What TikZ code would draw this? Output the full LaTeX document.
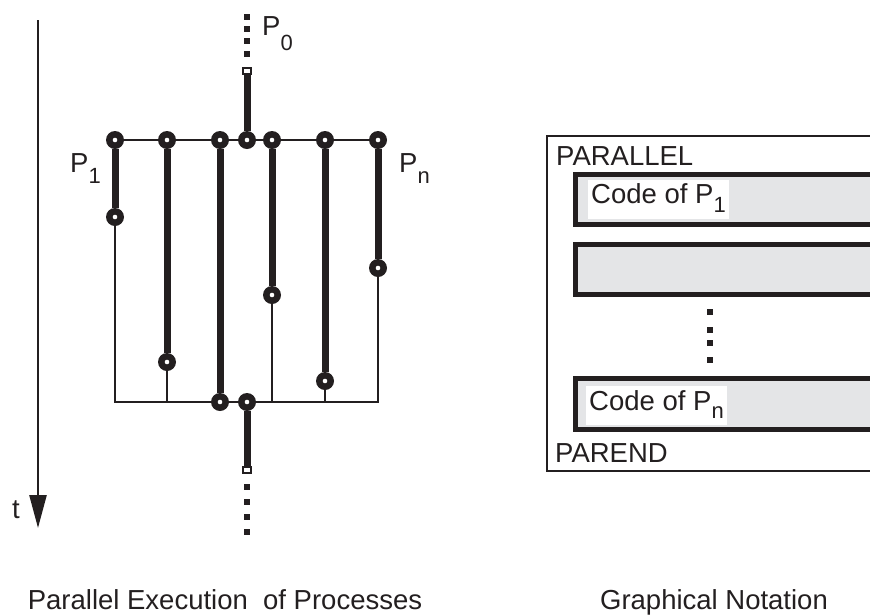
\documentclass[tikz,border=0pt]{standalone}
\usepackage{fontspec}
\setmainfont{Liberation Sans}
\usetikzlibrary{arrows.meta}

\definecolor{ink}{RGB}{35,31,32}
\definecolor{codegray}{RGB}{228,229,231}

% lowered, slightly smaller index (P_1, P_n, P_0)
\newcommand{\lsub}[2][-11pt]{\raisebox{#1}{\fontsize{22}{22}\selectfont #2}}

\begin{document}
\begin{tikzpicture}[x=1pt,y=-1pt,
  lbl/.style={inner sep=0pt, anchor=base west, text=ink, font=\fontsize{27.5}{30}\selectfont},
  caption/.style={inner sep=0pt, anchor=base, text=ink, font=\fontsize{27.5}{30}\selectfont},
  ring/.style={circle, fill=ink, minimum size=18pt, inner sep=0pt,
    path picture={\fill[white] (path picture bounding box.center) circle (2.3pt);}},
  wire/.style={draw=ink, line width=2pt},
  heavy/.style={draw=ink, line width=7pt},
  dotsq/.style={rectangle, fill=ink, minimum size=6pt, inner sep=0pt},
  endcap/.style={rectangle, draw=ink, fill=white, line width=1.5pt, minimum width=8pt, minimum height=6pt, inner sep=0pt},
  frame/.style={draw=ink, line width=2pt},
  codebox/.style={draw=ink, line width=5pt, fill=codegray},
  whitelbl/.style={fill=white, inner xsep=3pt, inner ysep=0pt, anchor=base west, text=ink, font=\fontsize{27.5}{30}\selectfont},
]
\useasboundingbox (0,0) rectangle (870,614);

% ---------- time axis ----------
\coordinate (ttop) at (38,20);
\coordinate (tend) at (38,528);
\draw[draw=ink, line width=2.5pt, -{Triangle[width=17pt,length=33pt,fill=ink]}] (ttop) -- (tend);
\node[lbl] (tlbl) at (12,518) {t};

% ---------- forks (top) ----------
\node[ring] (t1) at (115,140) {};
\node[ring] (t2) at (167,140) {};
\node[ring] (t3) at (220,140) {};
\node[ring] (t4) at (247,140) {};
\node[ring] (t5) at (272,140) {};
\node[ring] (t6) at (325,140) {};
\node[ring] (t7) at (378,140) {};

% ---------- process ends ----------
\node[ring] (m1) at (115,217) {};
\node[ring] (m2) at (167,362) {};
\node[ring] (m5) at (272,295) {};
\node[ring] (m6) at (325,381) {};
\node[ring] (m7) at (378,268) {};

% ---------- join (bottom) ----------
\node[ring] (b3) at (220,402) {};
\node[ring] (b4) at (247,402) {};
\coordinate (f1) at (115,402);
\coordinate (f2) at (167,402);
\coordinate (f5) at (272,402);
\coordinate (f6) at (325,402);
\coordinate (f7) at (378,402);

% fork bar
\draw[wire] (t1) -- (t2);
\draw[wire] (t2) -- (t3);
\draw[wire] (t3) -- (t4);
\draw[wire] (t4) -- (t5);
\draw[wire] (t5) -- (t6);
\draw[wire] (t6) -- (t7);

% running processes
\draw[heavy] (t1) -- (m1);
\draw[heavy] (t2) -- (m2);
\draw[heavy] (t3) -- (b3);
\draw[heavy] (t5) -- (m5);
\draw[heavy] (t6) -- (m6);
\draw[heavy] (t7) -- (m7);

% waiting until the join
\draw[wire] (m1) -- (f1) -- (f2) -- (b3);
\draw[wire] (b3) -- (b4);
\draw[wire] (b4) -- (f5) -- (f6) -- (f7) -- (m7);
\draw[wire] (m2) -- (f2);
\draw[wire] (m5) -- (f5);
\draw[wire] (m6) -- (f6);

% parent process P0 before and after
\node[dotsq] (u1) at (247,17) {};
\node[dotsq] (u2) at (247,29) {};
\node[dotsq] (u3) at (247,41) {};
\node[dotsq] (u4) at (247,54) {};
\node[endcap] (cap0) at (247,71) {};
\draw[heavy] (cap0.south) -- (t4);

\node[endcap] (cap1) at (247,470) {};
\draw[heavy] (b4) -- (cap1.north);
\node[dotsq] (l1) at (247,487) {};
\node[dotsq] (l2) at (247,502) {};
\node[dotsq] (l3) at (247,517) {};
\node[dotsq] (l4) at (247,532) {};

% process labels
\node[lbl] (p0) at (262,35) {P\lsub[-15pt]{0}};
\node[lbl] (p1) at (70,172) {P\lsub{1}};
\node[lbl] (pn) at (399,172) {P\lsub{n}};

% ---------- graphical notation ----------
\draw[frame] (547,136) rectangle (885,471);
\node[lbl] (par) at (556,165) {PARALLEL};
\node[lbl] (pend) at (555,462) {PAREND};

\draw[codebox] (575.5,174.5) rectangle (895,224.5);
\draw[codebox] (575.5,244.5) rectangle (895,294.5);
\draw[codebox] (575.5,378.5) rectangle (895,429.5);

\node[whitelbl, text height=23pt, text depth=16pt] (code1) at (588,203) {Code of P\lsub[-9pt]{1}};
\node[whitelbl, text height=24pt, text depth=15pt] (coden) at (586,410) {Code of P\lsub[-8pt]{n}};

\node[dotsq] (r1) at (710,312) {};
\node[dotsq] (r2) at (710,329.5) {};
\node[dotsq] (r3) at (710,342.5) {};
\node[dotsq] (r4) at (710,359.5) {};

% ---------- captions ----------
\node[caption] (cap left) at (225,609) {Parallel Execution\ \ of Processes};
\node[caption] (cap right) at (714,609) {Graphical Notation};
\end{tikzpicture}
\end{document}
